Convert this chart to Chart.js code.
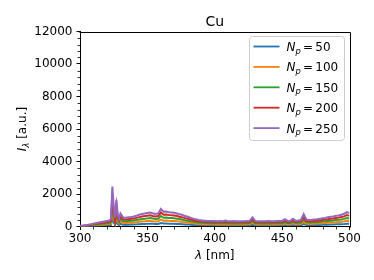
<!DOCTYPE html>
<html><head><meta charset="utf-8">
<script src="https://cdn.jsdelivr.net/npm/chart.js@4"></script>
<style>html,body{margin:0;padding:0;background:#fff}#wrap{width:374px;height:280px}</style>
</head><body><div id="wrap"><canvas id="c" width="374" height="280"></canvas></div>
<script>
const wavelengths = [300,302,304,306,308,310,312,314,316,318,320,322,
  323,324,325,326,327,328,329,330,
  332,334,336,338,340,342,344,346,348,350,352,354,356,358,360,362,364,366,368,370,
  372,374,376,378,380,382,384,386,388,390,392,394,396,398,400,402,404,406,408,410,
  412,414,416,418,420,422,424,426,428,430,432,434,436,438,440,442,444,446,448,450,
  452,454,456,458,460,462,464,466,468,470,472,474,476,478,480,482,484,486,488,490,
  492,494,496,498,500];

const np250 = [40,60,85,110,140,175,210,245,275,305,335,370,
  460,2460,1250,520,1640,720,470,810,
  560,540,565,590,620,665,720,775,800,835,860,815,770,805,1080,905,925,880,865,840,
  800,760,705,645,600,540,485,440,405,380,360,350,345,340,335,330,345,330,365,330,
  320,335,320,330,320,325,335,345,565,345,330,320,330,320,335,320,330,335,340,345,
  445,350,345,470,350,375,405,760,425,400,415,435,445,470,505,530,565,600,620,655,
  685,725,785,880,820];

const np200 = [30,45,65,90,110,140,165,195,220,245,265,295,
  360,1950,990,410,1300,570,375,640,
  445,430,450,470,495,530,575,620,640,665,690,650,615,640,860,720,740,700,690,670,
  640,605,560,515,480,430,385,350,320,300,285,280,275,270,265,265,275,265,290,265,
  255,265,255,265,255,260,265,275,450,275,265,255,265,255,265,255,265,265,270,275,
  355,280,275,375,280,300,325,605,340,320,330,345,355,375,405,425,450,480,495,525,
  550,580,625,700,655];

const np150 = [25,35,50,65,85,105,125,145,165,185,200,220,
  275,1470,750,310,980,430,280,485,
  335,325,340,355,370,400,430,465,480,500,515,490,460,480,645,540,555,525,520,505,
  480,455,420,385,360,325,290,265,240,225,215,210,205,205,200,200,205,200,215,200,
  190,200,190,200,190,195,200,205,340,205,200,190,200,190,200,190,200,200,205,205,
  265,210,205,280,210,225,245,455,255,240,250,260,265,280,305,320,340,360,370,395,
  410,435,470,525,490];

const np100 = [15,25,35,45,55,70,85,100,110,120,135,150,
  185,980,500,210,655,290,190,325,
  225,215,225,235,250,265,290,310,320,335,345,325,310,320,430,360,370,350,345,335,
  320,305,280,260,240,215,195,175,160,150,145,140,140,135,135,130,140,130,145,130,
  130,135,130,130,130,130,135,140,225,140,130,130,130,130,135,130,130,135,135,140,
  180,140,140,190,140,150,160,305,170,160,165,175,180,190,200,210,225,240,250,260,
  275,290,315,350,330];

const np50 = [10,12,18,22,28,35,42,50,55,60,68,75,
  92,490,250,105,330,145,95,160,
  112,108,112,118,125,133,145,155,160,167,172,163,155,160,215,180,185,175,172,168,
  160,152,140,130,120,108,97,88,81,76,72,70,69,68,67,66,69,66,73,66,
  64,67,64,66,64,65,67,69,113,69,66,64,66,64,67,64,66,67,68,69,
  89,70,69,94,70,75,81,152,85,80,83,87,89,94,101,106,113,120,124,131,
  137,145,157,176,164];

const npLabels = ['50','100','150','200','250'];
const seriesValues = [np50, np100, np150, np200, np250];
const seriesColors = ['#1f77b4','#ff7f0e','#2ca02c','#d62728','#9467bd'];
const xTickValues = [300,350,400,450,500];
const yTickValues = [0,2000,4000,6000,8000,10000,12000];
const xMinorStep = 10;
const yMinorStep = 400;
const chartTitle = 'Cu';

const FONT = "'DejaVu Sans'";

function drawRich(ctx, segs, x, y, align) {
  let total = 0;
  const widths = segs.map(s => {
    ctx.font = (s.italic ? 'italic ' : '') + s.size + 'px ' + FONT;
    const w = ctx.measureText(s.t).width + (s.gap || 0);
    total += w; return w;
  });
  let cx = align === 'center' ? x - total / 2 : x;
  segs.forEach((s, i) => {
    ctx.font = (s.italic ? 'italic ' : '') + s.size + 'px ' + FONT;
    ctx.fillText(s.t, cx, y + (s.dy || 0));
    cx += widths[i];
  });
}

const decor = {
  id: 'decor',
  afterDraw(chart) {
    const ctx = chart.ctx;
    const a = chart.chartArea;
    const xs = chart.scales.x, ys = chart.scales.y;
    ctx.save();
    ctx.strokeStyle = '#000';
    ctx.lineWidth = 1;
    ctx.beginPath();
    ctx.moveTo(Math.round(a.left) - 0.5, Math.round(a.top) + 0.5);
    ctx.lineTo(Math.round(a.right) + 0.5, Math.round(a.top) + 0.5);
    ctx.lineTo(Math.round(a.right) + 0.5, Math.round(a.bottom) + 0.5);
    ctx.stroke();
    ctx.lineWidth = 0.8;
    ctx.beginPath();
    for (let v = xs.min; v <= xs.max; v += xMinorStep) {
      if (xTickValues.includes(v)) continue;
      const px = Math.round(xs.getPixelForValue(v)) + 0.5;
      ctx.moveTo(px, Math.round(a.bottom)); ctx.lineTo(px, Math.round(a.bottom) + 2.5);
    }
    for (let v = ys.min; v <= ys.max; v += yMinorStep) {
      if (yTickValues.includes(v)) continue;
      const py = Math.round(ys.getPixelForValue(v)) + 0.5;
      ctx.moveTo(Math.round(a.left), py); ctx.lineTo(Math.round(a.left) - 2.5, py);
    }
    ctx.stroke();

    ctx.fillStyle = '#000';
    ctx.textBaseline = 'alphabetic';
    ctx.textAlign = 'left';
    drawRich(ctx, [{t: chartTitle, size: 14}], (a.left + a.right) / 2, a.top - 6, 'center');
    drawRich(ctx, [{t: 'λ', size: 12, italic: true}, {t: ' [nm]', size: 12}], (a.left + a.right) / 2, 259, 'center');
    ctx.save();
    ctx.translate(26, (a.top + a.bottom) / 2);
    ctx.rotate(-Math.PI / 2);
    drawRich(ctx, [{t: 'I', size: 12, italic: true}, {t: 'λ', size: 8.4, italic: true, dy: 2.5}, {t: ' [a.u.]', size: 12}], 0, 0, 'center');
    ctx.restore();

    const bx = 249.5, by = 36.5, bw = 95, bh = 104, r = 3;
    ctx.beginPath();
    ctx.moveTo(bx + r, by);
    ctx.lineTo(bx + bw - r, by); ctx.arcTo(bx + bw, by, bx + bw, by + r, r);
    ctx.lineTo(bx + bw, by + bh - r); ctx.arcTo(bx + bw, by + bh, bx + bw - r, by + bh, r);
    ctx.lineTo(bx + r, by + bh); ctx.arcTo(bx, by + bh, bx, by + bh - r, r);
    ctx.lineTo(bx, by + r); ctx.arcTo(bx, by, bx + r, by, r);
    ctx.closePath();
    ctx.fillStyle = 'rgba(255,255,255,0.8)';
    ctx.fill();
    ctx.strokeStyle = '#cccccc';
    ctx.lineWidth = 1;
    ctx.stroke();
    npLabels.forEach((lab, i) => {
      const ly = 46.5 + i * 20.4;
      ctx.strokeStyle = seriesColors[i];
      ctx.lineWidth = 1.8;
      ctx.beginPath(); ctx.moveTo(253.5, ly); ctx.lineTo(279.5, ly); ctx.stroke();
      ctx.fillStyle = '#000';
      drawRich(ctx, [
        {t: 'N', size: 12, italic: true},
        {t: 'p', size: 8.4, italic: true, dy: 2.5, gap: 2.2},
        {t: '=', size: 12, gap: 2.2},
        {t: lab, size: 12}
      ], 286.5, ly + 4.5, 'left');
    });
    ctx.restore();
  }
};

const datasets = seriesValues.map((vals, i) => ({
  label: 'N_p = ' + npLabels[i],
  data: wavelengths.map((x, j) => ({x: x, y: vals[j]})),
  borderColor: seriesColors[i],
  backgroundColor: seriesColors[i],
  borderWidth: 2,
  pointRadius: 0,
  fill: false,
  tension: 0,
  order: seriesValues.length - 1 - i
}));

const tickFont = {family: FONT, size: 12};

new Chart(document.getElementById('c'), {
  type: 'line',
  data: {datasets},
  options: {
    responsive: false,
    devicePixelRatio: 1,
    animation: false,
    events: [],
    layout: {padding: {left: 0, top: 31.5, right: 24.5, bottom: 0}},
    plugins: {legend: {display: false}, tooltip: {enabled: false}, title: {display: false}},
    scales: {
      x: {
        type: 'linear', min: 300, max: 500,
        afterBuildTicks: s => { s.ticks = xTickValues.map(v => ({value: v})); },
        afterFit: s => { s.height = 53.5; },
        grid: {display: true, drawOnChartArea: false, drawTicks: true, tickLength: 3.5, color: '#000', lineWidth: 1},
        border: {display: true, color: '#000', width: 1},
        ticks: {font: tickFont, color: '#000', padding: 2, maxRotation: 0, autoSkip: false, callback: v => String(v)}
      },
      y: {
        type: 'linear', min: 0, max: 12000,
        afterBuildTicks: s => { s.ticks = yTickValues.map(v => ({value: v})); },
        afterFit: s => { s.width = 80; },
        grid: {display: true, drawOnChartArea: false, drawTicks: true, tickLength: 3.5, color: '#000', lineWidth: 1},
        border: {display: true, color: '#000', width: 1},
        ticks: {font: tickFont, color: '#000', padding: 4, autoSkip: false, callback: v => String(v)}
      }
    }
  },
  plugins: [decor]
});
</script>
</body></html>
